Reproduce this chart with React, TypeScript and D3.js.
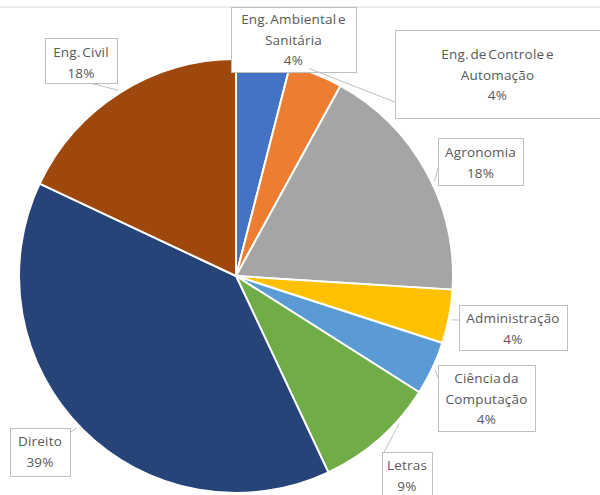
import React from 'react';
import * as d3 from 'd3';

// slices, clockwise from 12 o'clock
const courses = [
  'Eng. Ambiental e Sanitária',
  'Eng. de Controle e Automação',
  'Agronomia',
  'Administração',
  'Ciência da Computação',
  'Letras',
  'Direito',
  'Eng. Civil',
];
const shares = [4, 4, 18, 4, 4, 9, 39, 18];
const labelLines = [
  ['Eng. Ambiental e', 'Sanitária'],
  ['Eng. de Controle e', 'Automação'],
  ['Agronomia'],
  ['Administração'],
  ['Ciência da', 'Computação'],
  ['Letras'],
  ['Direito'],
  ['Eng. Civil'],
];
const colors = ['#4472c4', '#ed7d31', '#a5a5a5', '#ffc000', '#5b9bd5', '#70ad47', '#264478', '#9e480e'];

// callout boxes: x, y, w, h, first text line offset, leader start (bx, by), where the leader meets the slice (f)
const boxes = [
  { x: 231, y: 7, w: 125, h: 65, t: 12, bx: 300, by: 72, f: 0.5 },
  { x: 395, y: 30, w: 215, h: 88, t: 24, bx: 395, by: 102, f: 0.35 },
  { x: 438, y: 138, w: 85, h: 47, t: 14, bx: 438, by: 168, f: 0.55 },
  { x: 459, y: 305, w: 108, h: 45, t: 13, bx: 459, by: 320, f: 0.55 },
  { x: 438, y: 365, w: 97, h: 66, t: 13, bx: 438, by: 378, f: 0.5 },
  { x: 382, y: 452, w: 50, h: 60, t: 13, bx: 384, by: 452, f: 0.3 },
  { x: 10, y: 428, w: 60, h: 48, t: 13, bx: 68, by: 434, f: 0.51 },
  { x: 45, y: 38, w: 72, h: 45, t: 14, bx: 90, by: 83, f: 0.5 },
];

const W = 600;
const H = 495;
const cx = 236;
const cy = 276;
const R = 217;

export default function App() {
  const pie = d3.pie<number>().value(d => d).sort(null);
  const arcs = pie(shares);
  const arc = d3.arc<d3.PieArcDatum<number>>().innerRadius(0).outerRadius(R);
  const total = d3.sum(shares);
  const fmt = (v: number) => `${Math.round((v / total) * 100)}%`;

  return (
    <svg width={W} height={H} style={{ position: 'absolute', left: 0, top: 0 }}>
      <rect width={W} height={H} fill="#fff" />
      <line x1={0} x2={W} y1={7} y2={7} stroke="#d9d9d9" />
      <g transform={`translate(${cx},${cy})`}>
        {arcs.map((a, i) => (
          <path key={courses[i]} d={arc(a) || ''} fill={colors[i]} stroke="#fff" strokeWidth={2} strokeLinejoin="round" />
        ))}
      </g>
      {arcs.map((a, i) => {
        const b = boxes[i];
        const ang = a.startAngle + (a.endAngle - a.startAngle) * b.f;
        const px = cx + Math.sin(ang) * (R + 3);
        const py = cy - Math.cos(ang) * (R + 3);
        const lines = [...labelLines[i], fmt(shares[i])];
        const lh = 20.5;
        const tx = b.x + Math.min(b.w, W - b.x) / 2;
        return (
          <g key={`lbl-${i}`}>
            <line x1={b.bx} y1={b.by} x2={px} y2={py} stroke="#bfbfbf" strokeWidth={1} />
            <rect x={b.x + 0.5} y={b.y + 0.5} width={b.w} height={b.h} fill="#fff" stroke="#bfbfbf" />
            {lines.map((t, k) => (
              <text
                key={k}
                x={tx}
                y={b.y + b.t + k * lh}
                textAnchor="middle"
                dominantBaseline="central"
                fontFamily="'Open Sans', sans-serif"
                fontSize={13.5}
                letterSpacing={0.2}
                wordSpacing={-2}
                fill="#595959"
              >
                {t}
              </text>
            ))}
          </g>
        );
      })}
    </svg>
  );
}
